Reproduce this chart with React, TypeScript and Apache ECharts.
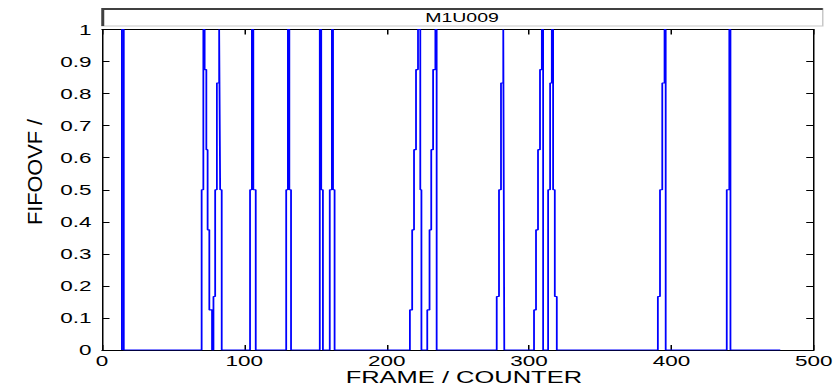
import React, { useEffect, useRef } from "react";
import * as echarts from "echarts";

// ---------- data ----------
const chartTitle = "M1U009";
const xAxisTitle = "FRAME / COUNTER";
const yAxisTitle = "FIFOOVF /";

const xTickValues = [0, 100, 200, 300, 400, 500];
const xTickLabels = ["0", "100", "200", "300", "400", "500"];
const yTickLabels = ["0", "0.1", "0.2", "0.3", "0.4", "0.5", "0.6", "0.7", "0.8", "0.9", "1"];

// frame at which each level starts (the level holds until the next frame in the list)
const stepFrames = [
  14, 14, 15.3,
  70, 71.2, 72.1, 73.3, 74.2, 75.4, 77.3, 78.3, 79.5, 80.7, 82.3, 83, 84.1,
  104, 105.3, 106.3, 108,
  129.4, 130.6, 131.6, 132.8,
  153, 154, 155.2,
  160, 161.5, 162.3, 163.4,
  216.3, 217.9, 219.2, 220.6, 222, 223.6, 224.4,
  228.5, 230.1, 231.3, 232.6, 234.2, 235.1,
  277.3, 278.9, 280.3, 281.9, 282.6,
  303.5, 304.9, 306.3, 307.7, 309, 309.9,
  313.4, 314.8, 316, 316.9, 318.1, 319.5,
  390.5, 392, 393.6, 395.2, 396,
  438.9, 440.7, 441.5,
  476.5,
];
const stepLevels = [
  0, 1, 0,
  0.5, 1, 0.875, 0.625, 0.375, 0.125, 0, 0.167, 0.5, 0.833, 1, 0.5, 0,
  0.5, 1, 0.5, 0,
  0.5, 1, 0.5, 0,
  1, 0.5, 0,
  0.5, 1, 0.5, 0,
  0.125, 0.375, 0.625, 0.875, 1, 0.5, 0,
  0.125, 0.375, 0.625, 0.875, 1, 0,
  0.167, 0.5, 0.833, 1, 0,
  0.125, 0.375, 0.625, 0.875, 1, 0,
  0.5, 0.833, 1, 0.5, 0.167, 0,
  0.167, 0.5, 0.833, 1, 0,
  0.5, 1, 0,
  0,
];

// ---------- layout ----------
const OUT_W = 837;
const OUT_H = 386;
const STRETCH = 1.5;
const W = OUT_W / STRETCH; // 558
const FONT = "Liberation Sans";

export default function App() {
  const ref = useRef<HTMLDivElement>(null);

  useEffect(() => {
    document.body.style.margin = "0";
    if (!ref.current) return;
    const chart = echarts.init(ref.current, undefined, { renderer: "svg" });

    const gridLeft = 68;
    const gridRight = 7.5;
    const gridTop = 29.5;
    const gridBottom = 36;
    const plotMidX = gridLeft + (W - gridLeft - gridRight) / 2;

    const data = stepFrames.map((f, i) => [f, stepLevels[i]]);

    const axisCommon = {
      type: "value" as const,
      axisLine: { show: true, onZero: false, lineStyle: { color: "#000", width: 1 } },
      axisTick: { show: true, inside: true, length: 5, lineStyle: { color: "#000", width: 1 } },
      splitLine: { show: false },
    };

    const labelFmtX = (v: number) => {
      const i = xTickValues.indexOf(v);
      return i >= 0 ? xTickLabels[i] : "";
    };
    const labelFmtY = (v: number) => {
      const i = Math.round(v * 10);
      return yTickLabels[i] ?? "";
    };

    const bx1 = 67.5, bx2 = 548.5, by1 = 8, by2 = 26;

    chart.setOption({
      animation: false,
      backgroundColor: "#fff",
      grid: { left: gridLeft, right: gridRight, top: gridTop, bottom: gridBottom, containLabel: false },
      xAxis: [
        {
          ...axisCommon,
          position: "bottom",
          min: 0,
          max: 500,
          interval: 100,
          axisLabel: {
            show: true, formatter: labelFmtX, fontFamily: FONT, fontSize: 15, lineHeight: 14,
            color: "#000", margin: 4,
          },
        },
        {
          ...axisCommon,
          position: "top",
          min: 0,
          max: 500,
          interval: 100,
          axisLabel: { show: false },
        },
      ],
      yAxis: [
        {
          ...axisCommon,
          position: "left",
          min: 0,
          max: 1,
          interval: 0.1,
          axisLabel: { show: true, formatter: labelFmtY, fontFamily: FONT, fontSize: 15, color: "#000", margin: 7 },
        },
        {
          ...axisCommon,
          position: "right",
          min: 0,
          max: 1,
          interval: 0.1,
          axisLabel: { show: false },
        },
      ],
      series: [
        {
          type: "line",
          step: "end",
          data,
          showSymbol: false,
          symbol: "none",
          lineStyle: { color: "#0000ff", width: 1.2 },
          itemStyle: { color: "#0000ff" },
          clip: true,
        },
      ],
      graphic: [
        {
          type: "rect",
          shape: { x: bx1, y: by1, width: bx2 - bx1, height: by2 - by1 },
          style: { fill: "#fff", stroke: "none" },
        },
        {
          type: "polyline",
          shape: { points: [[bx1, by2], [bx2, by2], [bx2, by1]] },
          style: { stroke: "#c8c8c8", lineWidth: 1, fill: "none" },
        },
        {
          type: "polyline",
          shape: { points: [[bx1 + 1, by2], [bx1 + 1, by1 + 1], [bx2, by1 + 1]] },
          style: { stroke: "#404040", lineWidth: 2, fill: "none" },
        },
        {
          type: "text",
          x: (bx1 + bx2) / 2,
          y: (by1 + by2) / 2 + 1,
          style: {
            text: chartTitle,
            fontFamily: FONT,
            fontSize: 13,
            fill: "#000",
            align: "center",
            verticalAlign: "middle",
          },
        },
        {
          type: "text",
          x: plotMidX,
          y: 369,
          style: {
            text: xAxisTitle,
            fontFamily: FONT,
            fontSize: 17,
            lineHeight: 17,
            fill: "#000",
            align: "center",
            verticalAlign: "top",
          },
        },
        {
          type: "text",
          x: 23,
          y: 172,
          rotation: Math.PI / 2,
          scaleX: 1.67,
          style: {
            text: yAxisTitle,
            fontFamily: FONT,
            fontSize: 13,
            fill: "#000",
            align: "center",
            verticalAlign: "middle",
          },
        },
      ],
    });

    return () => chart.dispose();
  }, []);

  return (
    <div style={{ width: OUT_W, height: OUT_H, overflow: "hidden", background: "#fff" }}>
      <div
        ref={ref}
        style={{ width: W, height: OUT_H, transform: `scaleX(${STRETCH})`, transformOrigin: "0 0" }}
      />
    </div>
  );
}
